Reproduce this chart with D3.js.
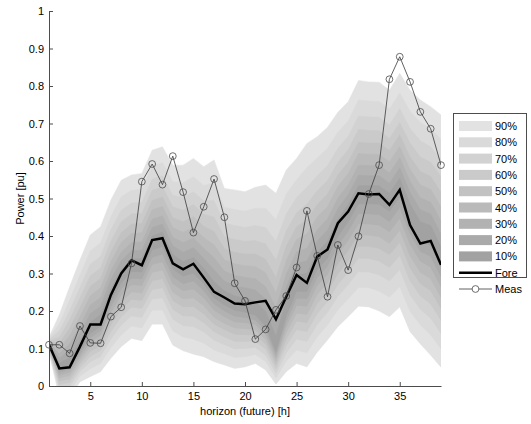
<!DOCTYPE html>
<html>
<head>
<meta charset="utf-8">
<script src="https://d3js.org/d3.v7.min.js"></script>
<style>
  body { margin: 0; background: #fff; }
  svg { display: block; font-family: "Liberation Sans", Arial, sans-serif; }
</style>
</head>
<body>
<div id="chart"></div>
<script>
// Forecast horizon (hours)
var hours = d3.range(1, 40);

// Quantile boundaries of the forecast fan
var q95 = [.13,.19,.265,.336,.403,.425,.496,.549,.563,.567,.629,.638,.589,.589,.607,.585,.603,.527,.523,.518,.53,.536,.514,.576,.607,.647,.665,.69,.73,.758,.815,.811,.81,.789,.834,.789,.763,.745,.723];
var q90 = [.127,.166,.230,.296,.360,.382,.452,.505,.522,.525,.587,.596,.545,.542,.558,.535,.543,.477,.471,.466,.474,.474,.444,.512,.550,.583,.608,.634,.677,.707,.763,.760,.759,.738,.782,.733,.703,.686,.658];
var q85 = [.124,.147,.201,.263,.325,.346,.417,.469,.488,.490,.552,.561,.509,.503,.518,.494,.494,.435,.428,.423,.428,.423,.386,.459,.503,.530,.561,.588,.634,.666,.720,.718,.717,.696,.740,.687,.654,.638,.604];
var q80 = [.121,.130,.177,.235,.294,.315,.386,.438,.459,.461,.522,.531,.478,.469,.484,.458,.451,.399,.391,.386,.388,.379,.336,.414,.462,.485,.521,.548,.597,.630,.684,.682,.681,.660,.703,.648,.611,.597,.558];
var q75 = [.119,.114,.154,.209,.266,.287,.358,.409,.432,.434,.495,.504,.449,.438,.452,.426,.412,.367,.357,.352,.352,.338,.290,.373,.425,.443,.484,.512,.563,.597,.650,.648,.648,.628,.670,.611,.572,.559,.516];
var q70 = [.117,.100,.134,.185,.241,.262,.332,.383,.407,.409,.470,.479,.423,.410,.423,.396,.377,.337,.326,.321,.319,.302,.249,.335,.391,.406,.451,.479,.532,.567,.620,.618,.618,.598,.639,.578,.537,.524,.478];
var q65 = [.115,.086,.113,.161,.216,.236,.307,.357,.383,.384,.445,.454,.397,.383,.395,.367,.342,.307,.295,.290,.286,.265,.208,.298,.358,.368,.417,.446,.501,.537,.589,.588,.588,.568,.609,.546,.502,.490,.440];
var q60 = [.113,.074,.095,.140,.193,.213,.284,.334,.361,.362,.422,.432,.374,.357,.369,.340,.310,.280,.267,.262,.256,.232,.170,.264,.327,.334,.387,.416,.473,.511,.562,.561,.561,.541,.582,.516,.470,.459,.405];
var q55 = [.112,.061,.076,.119,.170,.190,.260,.311,.339,.340,.400,.410,.351,.332,.343,.314,.278,.254,.240,.235,.226,.199,.133,.230,.297,.300,.357,.386,.445,.484,.534,.534,.534,.514,.554,.486,.438,.428,.371];
var q45 = [.108,.044,.053,.093,.140,.159,.227,.275,.305,.304,.363,.372,.312,.293,.301,.273,.235,.216,.202,.197,.189,.160,.092,.187,.253,.252,.311,.341,.399,.438,.486,.486,.485,.466,.504,.435,.386,.375,.317];
var q40 = [.107,.036,.045,.085,.129,.148,.212,.259,.287,.286,.343,.352,.292,.273,.280,.254,.219,.200,.186,.183,.176,.148,.084,.172,.234,.233,.289,.320,.375,.413,.460,.459,.457,.438,.476,.406,.359,.346,.291];
var q35 = [.105,.029,.037,.077,.117,.136,.197,.242,.270,.268,.324,.331,.273,.254,.259,.235,.202,.185,.171,.169,.164,.137,.075,.158,.215,.213,.268,.298,.352,.388,.433,.432,.429,.411,.447,.378,.333,.317,.265];
var q30 = [.103,.021,.028,.068,.105,.122,.180,.223,.251,.248,.303,.309,.250,.232,.235,.214,.183,.167,.155,.153,.150,.124,.066,.142,.194,.191,.244,.275,.326,.361,.403,.402,.398,.380,.415,.347,.303,.286,.236];
var q25 = [.101,.013,.019,.059,.092,.109,.164,.205,.231,.228,.281,.286,.228,.211,.212,.192,.165,.150,.138,.137,.136,.112,.056,.125,.173,.169,.220,.251,.299,.333,.373,.372,.367,.350,.383,.315,.273,.254,.207];
var q20 = [.099,.004,.009,.049,.079,.095,.145,.185,.210,.207,.257,.262,.204,.187,.186,.169,.145,.131,.119,.119,.120,.098,.046,.108,.150,.145,.193,.225,.271,.303,.341,.340,.333,.316,.348,.280,.240,.219,.175];
var q15 = [.096,-.005,-.002,.039,.064,.079,.125,.162,.187,.183,.232,.235,.178,.161,.158,.144,.122,.110,.099,.100,.103,.082,.034,.088,.125,.119,.164,.196,.239,.270,.305,.304,.296,.280,.310,.243,.204,.181,.140];
var q10 = [.093,-.016,-.015,.026,.046,.060,.102,.136,.160,.155,.202,.203,.147,.131,.125,.114,.096,.086,.076,.078,.084,.065,.021,.066,.096,.088,.131,.163,.203,.232,.263,.262,.253,.237,.265,.199,.163,.136,.099];
var q05 = [.09,-.03,-.03,.011,.025,.038,.074,.105,.127,.121,.165,.165,.109,.094,.085,.078,.065,.056,.047,.051,.06,.043,.005,.038,.06,.051,.09,.123,.158,.185,.213,.211,.20,.185,.211,.145,.112,.082,.05];

// Point forecast and measurements
var fore = [.11,.047,.05,.105,.164,.164,.243,.30,.335,.322,.389,.394,.327,.311,.326,.289,.251,.236,.22,.218,.223,.227,.178,.238,.296,.275,.345,.364,.434,.465,.514,.511,.512,.483,.523,.429,.38,.387,.323];
var meas = [.11,.11,.087,.16,.115,.114,.185,.21,.327,.545,.592,.537,.613,.517,.409,.478,.552,.45,.274,.227,.125,.151,.203,.24,.316,.467,.347,.238,.376,.309,.399,.512,.589,.818,.878,.811,.731,.686,.589];

// Bands, widest first, with legend labels
var bandLabels = ["90%", "80%", "70%", "60%", "50%", "40%", "30%", "20%", "10%"];
var bandLow = [q05, q10, q15, q20, q25, q30, q35, q40, q45];
var bandHigh = [q95, q90, q85, q80, q75, q70, q65, q60, q55];
var bandGrey = [226, 218, 210, 202, 194, 186, 178, 170, 162];

var yTicks = [0, .1, .2, .3, .4, .5, .6, .7, .8, .9, 1];
var xTicks = [5, 10, 15, 20, 25, 30, 35];

var width = 531, height = 424;
var plot = {left: 49, right: 441, top: 11, bottom: 386};

var svg = d3.select("#chart").append("svg")
    .attr("width", width)
    .attr("height", height);

var x = d3.scaleLinear().domain([1, 39]).range([plot.left, plot.right]);
var y = d3.scaleLinear().domain([0, 1]).range([plot.bottom, plot.top]);

// clip everything to the axes box
svg.append("clipPath").attr("id", "clip")
    .append("rect")
    .attr("x", plot.left).attr("y", plot.top)
    .attr("width", plot.right - plot.left)
    .attr("height", plot.bottom - plot.top);

var g = svg.append("g").attr("clip-path", "url(#clip)");

// Fan bands
bandLow.forEach(function (lo, b) {
    var hi = bandHigh[b];
    var area = d3.area()
        .x(function (d, i) { return x(hours[i]); })
        .y0(function (d, i) { return y(lo[i]); })
        .y1(function (d, i) { return y(hi[i]); });
    var c = bandGrey[b];
    g.append("path")
        .datum(hours)
        .attr("d", area)
        .attr("fill", d3.rgb(c, c, c))
        .attr("stroke", d3.rgb(c, c, c))
        .attr("stroke-width", 0.5);
});

// Forecast line
var foreLine = d3.line()
    .x(function (d, i) { return x(hours[i]); })
    .y(function (d) { return y(d); });
g.append("path")
    .datum(fore)
    .attr("d", foreLine)
    .attr("fill", "none")
    .attr("stroke", "#000")
    .attr("stroke-width", 2.5)
    .attr("stroke-linejoin", "miter");

// Measurements
g.append("path")
    .datum(meas)
    .attr("d", foreLine)
    .attr("fill", "none")
    .attr("stroke", "#3a3a3a")
    .attr("stroke-width", 0.8);
svg.selectAll("circle.meas")
    .data(meas)
    .enter().append("circle")
    .attr("class", "meas")
    .attr("cx", function (d, i) { return x(hours[i]); })
    .attr("cy", function (d) { return y(d); })
    .attr("r", 3.4)
    .attr("fill", "none")
    .attr("stroke", "#4a4a4a")
    .attr("stroke-width", 0.8);

// Axes (MATLAB style: ticks pointing inward, no box)
var yAxis = d3.axisLeft(y).tickValues(yTicks)
    .tickFormat(d3.format("~g"))
    .tickSizeInner(-4).tickSizeOuter(0).tickPadding(5);
var xAxis = d3.axisBottom(x).tickValues(xTicks)
    .tickSizeInner(-4).tickSizeOuter(0).tickPadding(6);

var ya = svg.append("g")
    .attr("transform", "translate(" + plot.left + ",0)")
    .call(yAxis);
var xa = svg.append("g")
    .attr("transform", "translate(0," + plot.bottom + ")")
    .call(xAxis);

[ya, xa].forEach(function (a) {
    a.selectAll("path, line").attr("stroke", "#4d4d4d");
    a.selectAll("text").attr("fill", "#000").style("font-size", "11px")
        .style("font-family", "'Liberation Sans', Arial, sans-serif");
});

svg.append("text")
    .attr("transform", "translate(24," + (plot.top + plot.bottom) / 2 + ") rotate(-90)")
    .attr("text-anchor", "middle")
    .style("font-size", "11px")
    .text("Power [pu]");

svg.append("text")
    .attr("x", (plot.left + plot.right) / 2)
    .attr("y", 415)
    .attr("text-anchor", "middle")
    .style("font-size", "11px")
    .text("horizon (future) [h]");

// Legend
var legend = svg.append("g").attr("transform", "translate(453,113)");
legend.append("rect")
    .attr("x", 0.5).attr("y", 0.5)
    .attr("width", 73).attr("height", 164)
    .attr("fill", "#fff")
    .attr("stroke", "#4d4d4d")
    .attr("stroke-width", 1);

var rowH = 16.3, rowY0 = 13;
bandLabels.forEach(function (lab, b) {
    var c = bandGrey[b];
    var cy = rowY0 + b * rowH;
    legend.append("rect")
        .attr("x", 6).attr("y", cy - 5)
        .attr("width", 33).attr("height", 10)
        .attr("fill", d3.rgb(c, c, c));
    legend.append("text")
        .attr("x", 42).attr("y", cy + 4)
        .style("font-size", "11px")
        .text(lab);
});

var foreY = rowY0 + 9 * rowH;
legend.append("line")
    .attr("x1", 6).attr("x2", 39)
    .attr("y1", foreY).attr("y2", foreY)
    .attr("stroke", "#000").attr("stroke-width", 2.5);
legend.append("text")
    .attr("x", 42).attr("y", foreY + 4)
    .style("font-size", "11px")
    .text("Fore");

var measY = rowY0 + 10 * rowH;
legend.append("line")
    .attr("x1", 6).attr("x2", 39)
    .attr("y1", measY).attr("y2", measY)
    .attr("stroke", "#3a3a3a").attr("stroke-width", 0.8);
legend.append("circle")
    .attr("cx", 22.5).attr("cy", measY).attr("r", 3.4)
    .attr("fill", "#fff").attr("stroke", "#4a4a4a").attr("stroke-width", 0.8);
legend.append("text")
    .attr("x", 42).attr("y", measY + 4)
    .style("font-size", "11px")
    .text("Meas");
</script>
</body>
</html>
